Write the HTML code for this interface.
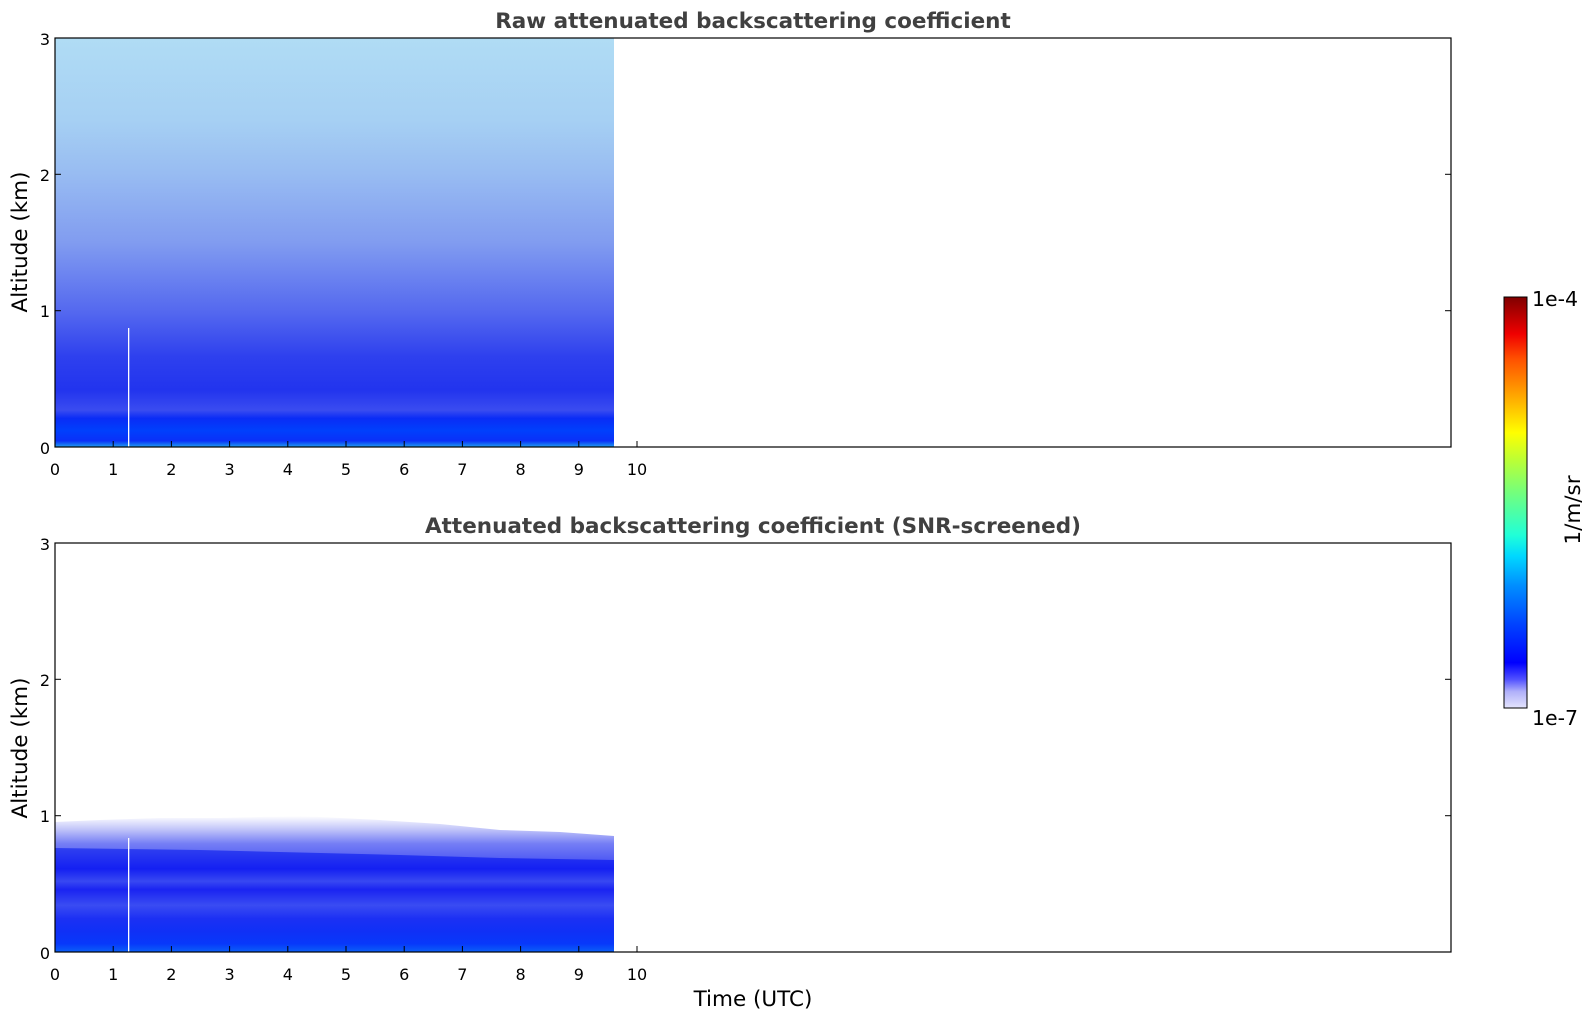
<!DOCTYPE html>
<html><head><meta charset="utf-8"><style>
html,body{margin:0;padding:0;background:#fff;}
svg{display:block;font-family:"DejaVu Sans","Liberation Sans",sans-serif;}
</style></head><body>
<svg width="1595" height="1020" viewBox="0 0 1595 1020" xmlns="http://www.w3.org/2000/svg">
<defs>
<linearGradient id="gtop" x1="0" y1="0" x2="0" y2="1">
<stop offset="0" stop-color="#b0dcf4"/>
<stop offset="0.2" stop-color="#a6d0f3"/>
<stop offset="0.33" stop-color="#98bcf2"/>
<stop offset="0.5" stop-color="#819cf0"/>
<stop offset="0.67" stop-color="#5468ef"/>
<stop offset="0.78" stop-color="#2e40ee"/>
<stop offset="0.86" stop-color="#2234ee"/>
<stop offset="0.91" stop-color="#3a4cf0"/>
<stop offset="0.93" stop-color="#0a2cf6"/>
<stop offset="0.96" stop-color="#0040fc"/>
<stop offset="0.985" stop-color="#0a30f8"/>
<stop offset="1" stop-color="#20a0f0"/>
</linearGradient>
<linearGradient id="gbot" x1="0" y1="0" x2="0" y2="1">
<stop offset="0" stop-color="#3040f0"/>
<stop offset="0.2" stop-color="#1420f2"/>
<stop offset="0.32" stop-color="#3848f2"/>
<stop offset="0.4" stop-color="#1a24f2"/>
<stop offset="0.55" stop-color="#3a4cf2"/>
<stop offset="0.68" stop-color="#1c30f4"/>
<stop offset="0.8" stop-color="#1030f6"/>
<stop offset="0.92" stop-color="#0838fa"/>
<stop offset="1" stop-color="#0a60f8"/>
</linearGradient>
<linearGradient id="gfringe" x1="0" y1="0" x2="0" y2="1">
<stop offset="0" stop-color="#ffffff"/>
<stop offset="0.3" stop-color="#b8bcf8"/>
<stop offset="0.6" stop-color="#6670f4"/>
<stop offset="1" stop-color="#3844f2"/>
</linearGradient>
<linearGradient id="gcb" x1="0" y1="1" x2="0" y2="0">
<stop offset="0" stop-color="#e4e4fc"/>
<stop offset="0.04" stop-color="#b0b0fa"/>
<stop offset="0.07" stop-color="#5050ff"/>
<stop offset="0.11" stop-color="#0000ff"/>
<stop offset="0.2" stop-color="#0040ff"/>
<stop offset="0.3" stop-color="#0090ff"/>
<stop offset="0.37" stop-color="#00d8ff"/>
<stop offset="0.42" stop-color="#20ffd8"/>
<stop offset="0.52" stop-color="#70ff80"/>
<stop offset="0.6" stop-color="#b8ff38"/>
<stop offset="0.67" stop-color="#ffff00"/>
<stop offset="0.75" stop-color="#ffb000"/>
<stop offset="0.85" stop-color="#ff5000"/>
<stop offset="0.91" stop-color="#f00000"/>
<stop offset="1" stop-color="#800000"/>
</linearGradient>
</defs>

<!-- Top panel -->
<text x="753" y="28" text-anchor="middle" font-size="21.5" font-weight="bold" fill="#404040">Raw attenuated backscattering coefficient</text>
<rect x="55" y="38" width="559" height="409" fill="url(#gtop)"/>
<rect x="128" y="328" width="1.3" height="119" fill="#fff"/>
<rect x="55" y="38" width="1396" height="409" fill="none" stroke="#000" stroke-width="1.2"/>
<g stroke="#000" stroke-width="1">
<line x1="55" y1="174.3" x2="61" y2="174.3"/><line x1="55" y1="310.7" x2="61" y2="310.7"/>
<line x1="1451" y1="174.3" x2="1445" y2="174.3"/><line x1="1451" y1="310.7" x2="1445" y2="310.7"/>
</g>
<g font-size="16" fill="#000" text-anchor="end">
<text x="50" y="454">0</text><text x="50" y="317">1</text><text x="50" y="181">2</text><text x="50" y="45">3</text>
</g>
<g stroke="#000" stroke-width="1">
<line x1="113.2" y1="447" x2="113.2" y2="441"/><line x1="171.4" y1="447" x2="171.4" y2="441"/><line x1="229.6" y1="447" x2="229.6" y2="441"/><line x1="287.8" y1="447" x2="287.8" y2="441"/><line x1="346" y1="447" x2="346" y2="441"/><line x1="404.2" y1="447" x2="404.2" y2="441"/><line x1="462.4" y1="447" x2="462.4" y2="441"/><line x1="520.6" y1="447" x2="520.6" y2="441"/><line x1="578.8" y1="447" x2="578.8" y2="441"/><line x1="637" y1="447" x2="637" y2="441"/>
</g>
<g font-size="16" fill="#000" text-anchor="middle">
<text x="55" y="475">0</text><text x="113.2" y="475">1</text><text x="171.4" y="475">2</text><text x="229.6" y="475">3</text><text x="287.8" y="475">4</text><text x="346" y="475">5</text><text x="404.2" y="475">6</text><text x="462.4" y="475">7</text><text x="520.6" y="475">8</text><text x="578.8" y="475">9</text><text x="637" y="475">10</text>
</g>
<text transform="translate(27,242) rotate(-90)" text-anchor="middle" font-size="21.5" fill="#000">Altitude (km)</text>

<!-- Bottom panel -->
<polygon points="55,822 100,820 160,818 220,818 300,816 380,820 440,824 500,830 560,832 614,836 614,862 55,852" fill="url(#gfringe)" opacity="0.9"/>
<polygon points="55,848 200,850 400,855 500,858 614,860 614,952 55,952" fill="url(#gbot)"/>
<text x="753" y="533" text-anchor="middle" font-size="21.5" font-weight="bold" fill="#404040">Attenuated backscattering coefficient (SNR-screened)</text>
<rect x="128" y="838" width="1.3" height="114" fill="#fff"/>
<rect x="55" y="543" width="1396" height="409" fill="none" stroke="#000" stroke-width="1.2"/>
<g stroke="#000" stroke-width="1">
<line x1="55" y1="679.3" x2="61" y2="679.3"/><line x1="55" y1="815.7" x2="61" y2="815.7"/>
<line x1="1451" y1="679.3" x2="1445" y2="679.3"/><line x1="1451" y1="815.7" x2="1445" y2="815.7"/>
</g>
<g font-size="16" fill="#000" text-anchor="end">
<text x="50" y="959">0</text><text x="50" y="822">1</text><text x="50" y="686">2</text><text x="50" y="550">3</text>
</g>
<g stroke="#000" stroke-width="1">
<line x1="113.2" y1="952" x2="113.2" y2="946"/><line x1="171.4" y1="952" x2="171.4" y2="946"/><line x1="229.6" y1="952" x2="229.6" y2="946"/><line x1="287.8" y1="952" x2="287.8" y2="946"/><line x1="346" y1="952" x2="346" y2="946"/><line x1="404.2" y1="952" x2="404.2" y2="946"/><line x1="462.4" y1="952" x2="462.4" y2="946"/><line x1="520.6" y1="952" x2="520.6" y2="946"/><line x1="578.8" y1="952" x2="578.8" y2="946"/><line x1="637" y1="952" x2="637" y2="946"/>
</g>
<g font-size="16" fill="#000" text-anchor="middle">
<text x="55" y="980">0</text><text x="113.2" y="980">1</text><text x="171.4" y="980">2</text><text x="229.6" y="980">3</text><text x="287.8" y="980">4</text><text x="346" y="980">5</text><text x="404.2" y="980">6</text><text x="462.4" y="980">7</text><text x="520.6" y="980">8</text><text x="578.8" y="980">9</text><text x="637" y="980">10</text>
</g>
<text transform="translate(27,748) rotate(-90)" text-anchor="middle" font-size="21.5" fill="#000">Altitude (km)</text>
<text x="753" y="1006" text-anchor="middle" font-size="21.5" fill="#000">Time (UTC)</text>

<!-- Colorbar -->
<rect x="1504" y="297" width="23" height="411" fill="url(#gcb)" stroke="#000" stroke-width="1"/>
<text x="1532" y="306" font-size="20.5" fill="#000">1e-4</text>
<text x="1532" y="725" font-size="20.5" fill="#000">1e-7</text>
<text transform="translate(1580,510) rotate(-90)" text-anchor="middle" font-size="21.5" fill="#000">1/m/sr</text>
</svg>
</body></html>
